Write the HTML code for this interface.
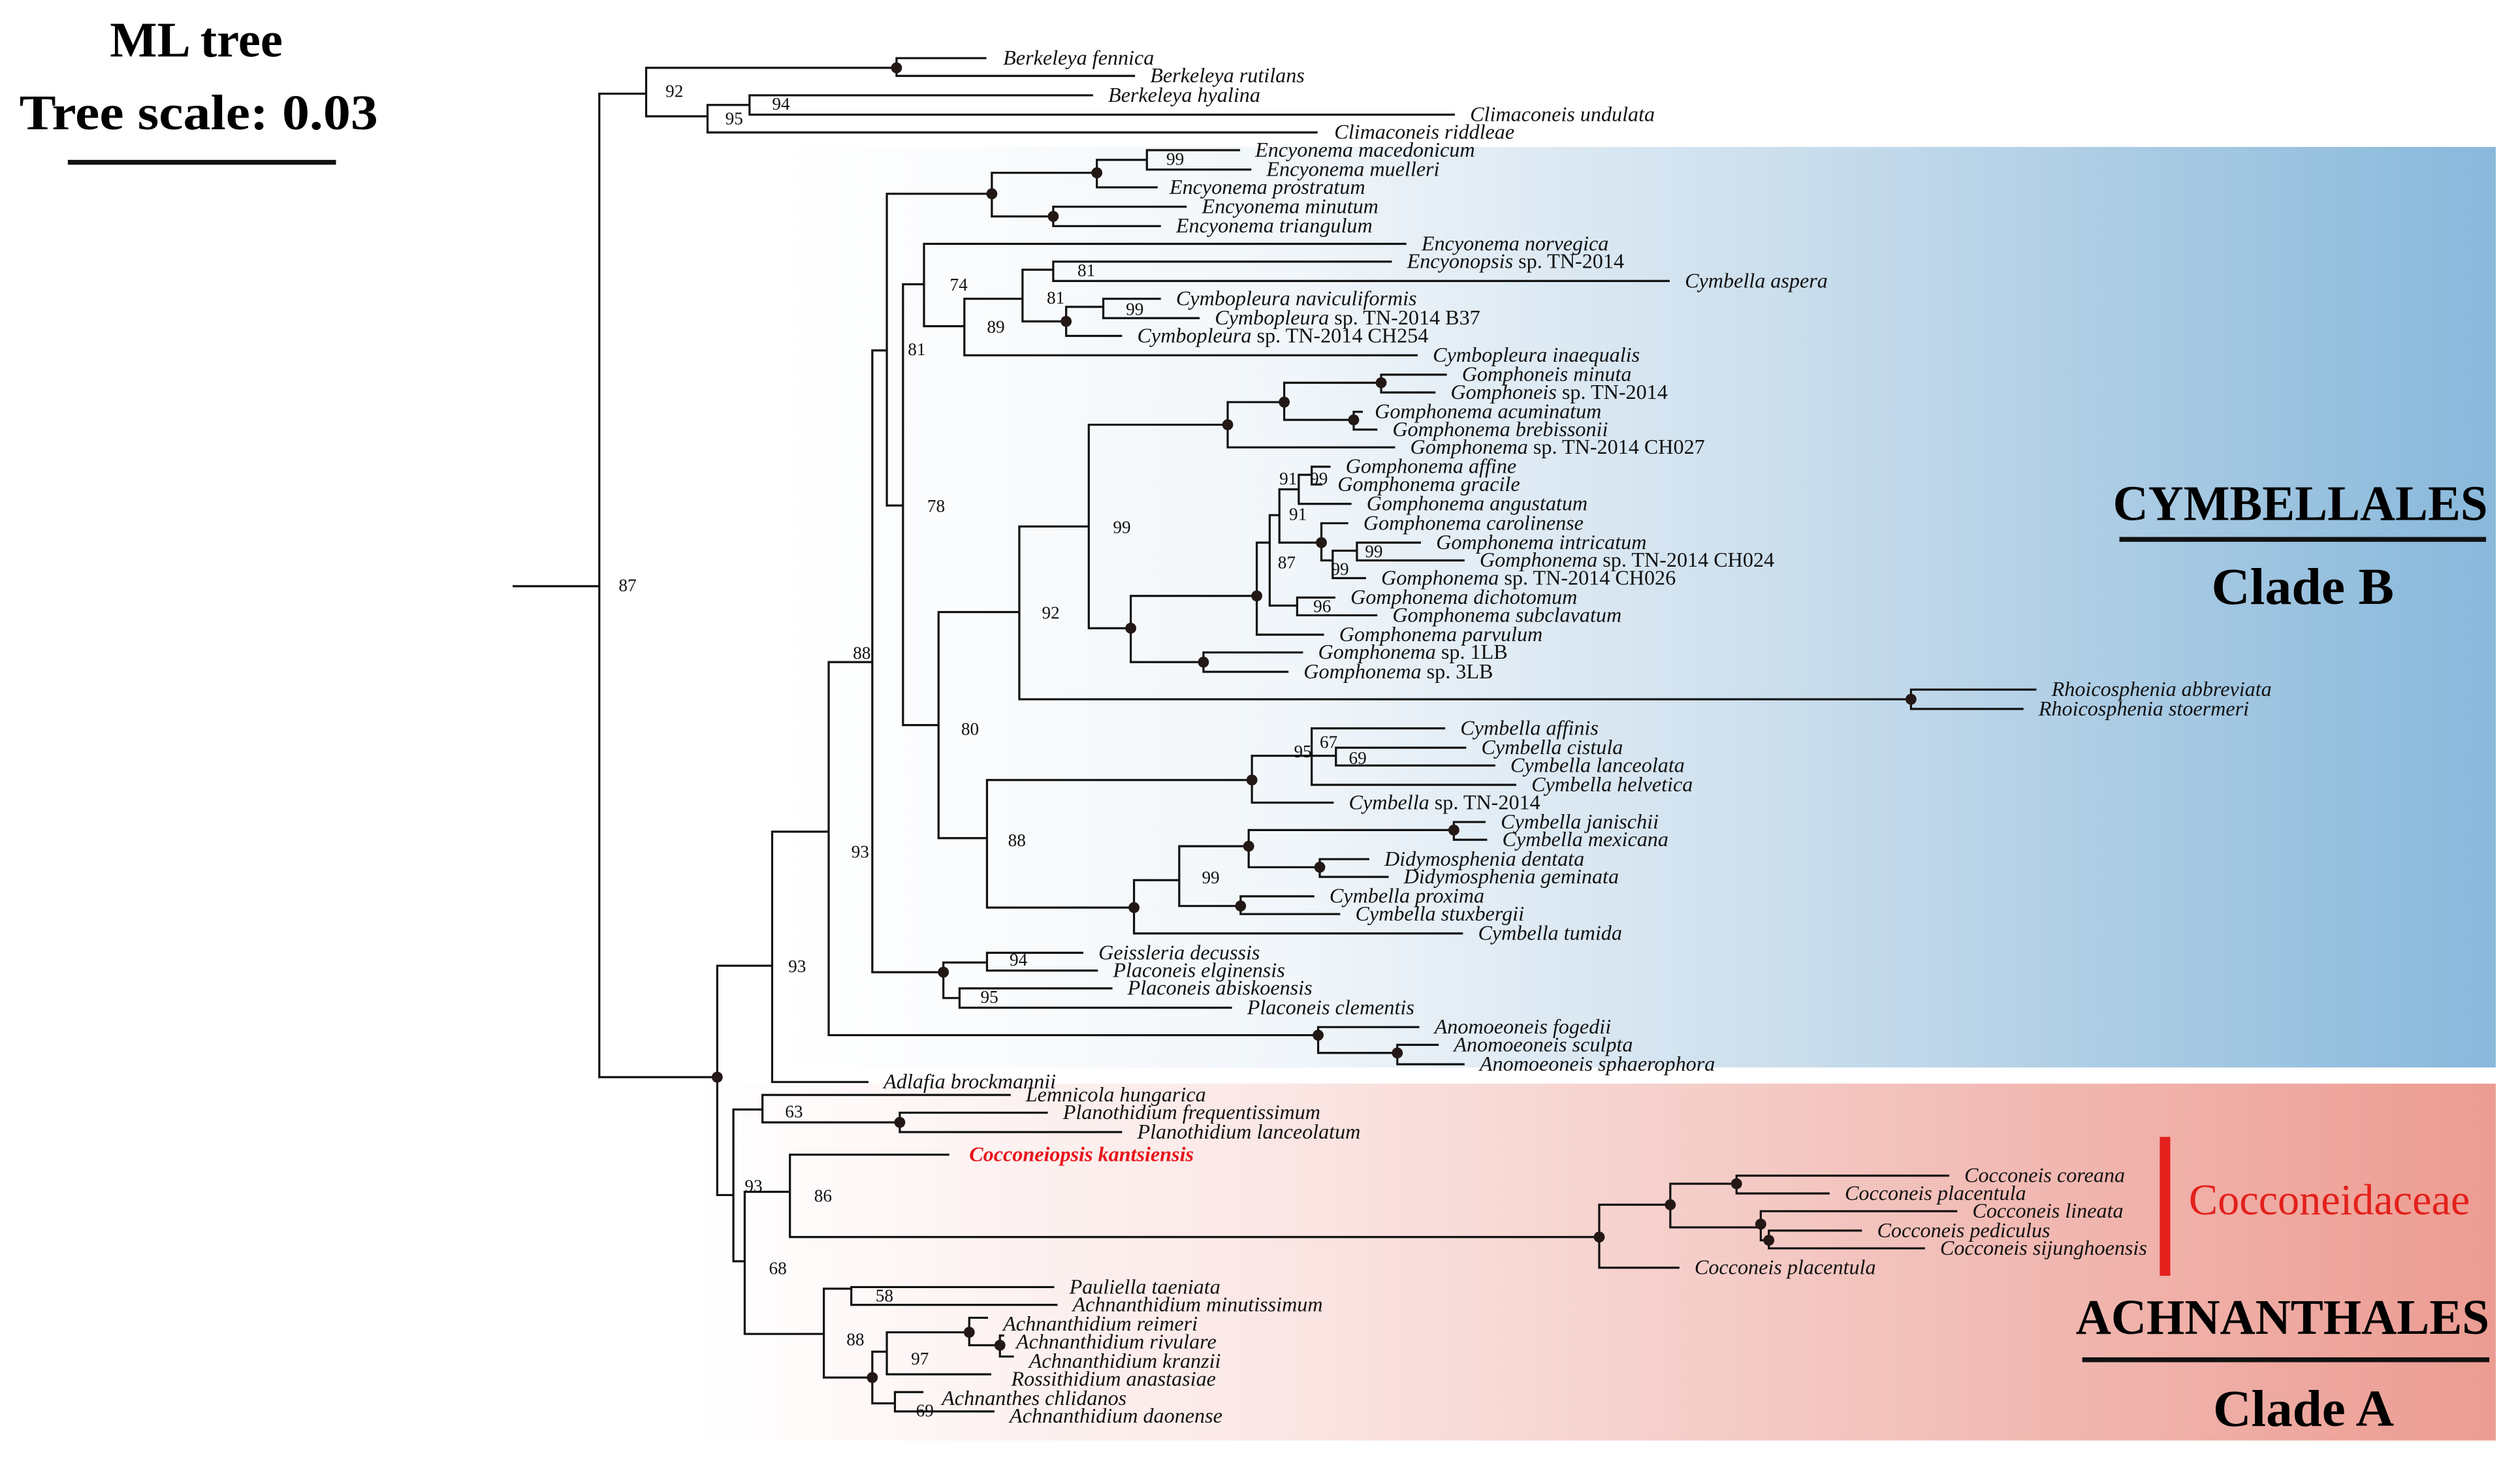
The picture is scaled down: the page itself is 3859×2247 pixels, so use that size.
<!DOCTYPE html>
<html><head><meta charset="utf-8"><style>
html,body{margin:0;padding:0;background:#fff}
svg{display:block}
.t text{font-family:"Liberation Serif",serif;font-style:italic;font-size:13px;fill:#111}
.n{font-style:normal}
.b{font-family:"Liberation Serif",serif;font-size:11px;fill:#111}
.h{font-family:"Liberation Serif",serif;font-weight:bold;fill:#000}
</style></head><body>
<svg width="3859" height="2247" viewBox="0 0 1560 908.4" preserveAspectRatio="none" xmlns="http://www.w3.org/2000/svg">
<defs>
<linearGradient id="gb" x1="480" y1="0" x2="1545" y2="0" gradientUnits="userSpaceOnUse">
<stop offset="0" stop-color="#ffffff"/><stop offset="0.3" stop-color="#f1f6fa"/><stop offset="0.6" stop-color="#c9ddec"/><stop offset="1" stop-color="#88b8db"/></linearGradient>
<linearGradient id="gr" x1="430" y1="0" x2="1545" y2="0" gradientUnits="userSpaceOnUse">
<stop offset="0" stop-color="#ffffff"/><stop offset="0.3" stop-color="#fbe9e7"/><stop offset="0.6" stop-color="#f4c9c4"/><stop offset="1" stop-color="#ec9c92"/></linearGradient>
</defs>
<rect x="480" y="91" width="1065" height="570" fill="url(#gb)"/>
<rect x="430" y="671" width="1115" height="221" fill="url(#gr)"/>

<text class="h" x="68" y="35" font-size="31" textLength="107" lengthAdjust="spacingAndGlyphs">ML tree</text>
<text class="h" x="12" y="80" font-size="31" textLength="222" lengthAdjust="spacingAndGlyphs">Tree scale: 0.03</text>
<rect x="42" y="99" width="166" height="3" fill="#111"/>

<g fill="none" stroke="#111" stroke-width="1.3" stroke-linecap="square">
<path d="M318,363H371 M371,58V667 M371,58H400 M371,667H444
M400,42V72 M400,42H555 M400,72H438
M555,36V47 M555,36H610 M555,47H702
M438,65V82 M438,65H464 M438,82H815
M464,59V71 M464,59H676 M464,71H900
M444,598V740 M444,598H478 M444,740H454
M478,515V670 M478,515H513 M478,670H537
M513,410V641 M513,410H540 M513,641H816
M816,636V652 M816,636H878 M816,652H865
M865,647V659 M865,647H890 M865,659H906
M540,217V602 M540,217H549 M540,602H584
M584,596V618 M584,596H611 M584,618H594
M611,590V601 M611,590H670 M611,601H679
M594,612V624 M594,612H688 M594,624H762
M549,120V313 M549,120H614 M549,313H559
M614,107V134 M614,107H679 M614,134H652
M679,99V116 M679,99H710 M679,116H716
M710,93V105 M710,93H767 M710,105H774
M652,128V140 M652,128H734 M652,140H718
M559,176V449 M559,176H572 M559,449H581
M572,151V202 M572,151H870 M572,202H597
M597,185V220 M597,185H633 M597,220H877
M633,167V199 M633,167H652 M633,199H660
M652,162V174 M652,162H861 M652,174H1033
M660,190V208 M660,190H683 M660,208H694
M683,185V197 M683,185H718 M683,197H742
M581,379V519 M581,379H631 M581,519H611
M631,326V433 M631,326H674 M631,433H1183
M1183,427V439 M1183,427H1260 M1183,439H1252
M674,263V389 M674,263H760 M674,389H700
M760,249V277 M760,249H795 M760,277H863
M795,237V260 M795,237H855 M795,260H838
M855,232V243 M855,232H895 M855,243H888
M838,255V266 M838,255H843 M838,266H852
M700,369V410 M700,369H778 M700,410H745
M745,404V416 M745,404H806 M745,416H797
M778,336V393 M778,336H786 M778,393H819
M786,319V375 M786,319H792 M786,375H803
M792,303V336 M792,303H804 M792,336H818
M804,294V312 M804,294H812 M804,312H836
M812,289V300 M812,289H823 M812,300H818
M818,324V347 M818,324H834 M818,347H825
M825,341V358 M825,341H840 M825,358H845
M840,336V347 M840,336H879 M840,347H906
M803,370V381 M803,370H826 M803,381H852
M611,483V562 M611,483H775 M611,562H702
M775,468V497 M775,468H812 M775,497H825
M812,451V486 M812,451H894 M812,468H827 M812,486H938
M827,463V474 M827,463H907 M827,474H925
M702,545V578 M702,545H730 M702,578H905
M730,524V561 M730,524H773 M730,561H768
M773,514V537 M773,514H900 M773,537H817
M900,509V520 M900,509H919 M900,520H920
M817,532V543 M817,532H847 M817,543H859
M768,555V566 M768,555H813 M768,566H829
M454,687V781 M454,687H472 M454,781H461
M472,678V695 M472,678H625 M472,695H557
M557,689V701 M557,689H648 M557,701H694
M461,738V826 M461,738H489 M461,826H510
M489,715V766 M489,715H587 M489,766H990
M990,746V785 M990,746H1034 M990,785H1039
M1034,733V760 M1034,733H1075 M1034,760H1090
M1075,728V739 M1075,728H1206 M1075,739H1132
M1090,750V768 M1090,750H1211 M1090,768H1095
M1095,762V773 M1095,762H1152 M1095,773H1191
M510,798V853 M510,798H527 M510,853H540
M527,797V808 M527,797H652 M527,808H654
M540,837V869 M540,837H549 M540,869H554
M549,825V851 M549,825H600 M549,851H613
M600,816V833 M600,816H611 M600,833H619
M619,827V840 M619,827H621 M619,840H627
M554,862V874 M554,862H571 M554,874H615"/>
</g>

<g fill="#231815">
<circle cx="555" cy="42" r="3.4"/><circle cx="614" cy="120" r="3.4"/><circle cx="679" cy="107" r="3.4"/><circle cx="652" cy="134" r="3.4"/>
<circle cx="660" cy="199" r="3.4"/><circle cx="760" cy="263" r="3.4"/><circle cx="795" cy="249" r="3.4"/><circle cx="855" cy="237" r="3.4"/>
<circle cx="838" cy="260" r="3.4"/><circle cx="700" cy="389" r="3.4"/><circle cx="778" cy="369" r="3.4"/><circle cx="745" cy="410" r="3.4"/>
<circle cx="818" cy="336" r="3.4"/><circle cx="1183" cy="433" r="3.4"/><circle cx="775" cy="483" r="3.4"/><circle cx="702" cy="562" r="3.4"/>
<circle cx="773" cy="524" r="3.4"/><circle cx="900" cy="514" r="3.4"/><circle cx="817" cy="537" r="3.4"/><circle cx="768" cy="561" r="3.4"/>
<circle cx="584" cy="602" r="3.4"/><circle cx="816" cy="641" r="3.4"/><circle cx="865" cy="652" r="3.4"/><circle cx="444" cy="667" r="3.4"/>
<circle cx="557" cy="695" r="3.4"/><circle cx="990" cy="766" r="3.4"/><circle cx="1034" cy="746" r="3.4"/><circle cx="1075" cy="733" r="3.4"/>
<circle cx="1090" cy="758" r="3.4"/><circle cx="1095" cy="768" r="3.4"/><circle cx="540" cy="853" r="3.4"/><circle cx="600" cy="825" r="3.4"/>
<circle cx="619" cy="833" r="3.4"/>
</g>

<g class="b">
<text x="383" y="366">87</text><text x="412" y="60">92</text><text x="449" y="77">95</text><text x="478" y="68">94</text>
<text x="488" y="602">93</text><text x="527" y="531">93</text><text x="528" y="408">88</text><text x="562" y="220">81</text>
<text x="574" y="317">78</text><text x="588" y="180">74</text><text x="611" y="206">89</text><text x="648" y="188">81</text>
<text x="667" y="171">81</text><text x="697" y="195">99</text><text x="722" y="102">99</text><text x="595" y="455">80</text>
<text x="645" y="383">92</text><text x="689" y="330">99</text><text x="791" y="352">87</text><text x="792" y="300">91</text>
<text x="811" y="300">99</text><text x="798" y="322">91</text><text x="845" y="345">99</text><text x="824" y="356">99</text>
<text x="813" y="379">96</text><text x="624" y="524">88</text><text x="801" y="469">95</text><text x="817" y="463">67</text>
<text x="835" y="473">69</text><text x="744" y="547">99</text><text x="625" y="598">94</text><text x="607" y="621">95</text>
<text x="486" y="692">63</text><text x="461" y="738">93</text><text x="504" y="744">86</text><text x="476" y="789">68</text>
<text x="542" y="806">58</text><text x="524" y="833">88</text><text x="564" y="845">97</text><text x="567" y="877">69</text>
</g>

<g class="t">
<text x="621" y="40">Berkeleya fennica</text>
<text x="712" y="51">Berkeleya rutilans</text>
<text x="686" y="63">Berkeleya hyalina</text>
<text x="910" y="75">Climaconeis undulata</text>
<text x="826" y="86">Climaconeis riddleae</text>
<text x="777" y="97">Encyonema macedonicum</text>
<text x="784" y="109">Encyonema muelleri</text>
<text x="724" y="120">Encyonema prostratum</text>
<text x="744" y="132">Encyonema minutum</text>
<text x="728" y="144">Encyonema triangulum</text>
<text x="880" y="155">Encyonema norvegica</text>
<text x="871" y="166">Encyonopsis<tspan class="n"> sp. TN-2014</tspan></text>
<text x="1043" y="178">Cymbella aspera</text>
<text x="728" y="189">Cymbopleura naviculiformis</text>
<text x="752" y="201">Cymbopleura<tspan class="n"> sp. TN-2014 B37</tspan></text>
<text x="704" y="212">Cymbopleura<tspan class="n"> sp. TN-2014 CH254</tspan></text>
<text x="887" y="224">Cymbopleura inaequalis</text>
<text x="905" y="236">Gomphoneis minuta</text>
<text x="898" y="247">Gomphoneis<tspan class="n"> sp. TN-2014</tspan></text>
<text x="851" y="259">Gomphonema acuminatum</text>
<text x="862" y="270">Gomphonema brebissonii</text>
<text x="873" y="281">Gomphonema<tspan class="n"> sp. TN-2014 CH027</tspan></text>
<text x="833" y="293">Gomphonema affine</text>
<text x="828" y="304">Gomphonema gracile</text>
<text x="846" y="316">Gomphonema angustatum</text>
<text x="844" y="328">Gomphonema carolinense</text>
<text x="889" y="340">Gomphonema intricatum</text>
<text x="916" y="351">Gomphonema<tspan class="n"> sp. TN-2014 CH024</tspan></text>
<text x="855" y="362">Gomphonema<tspan class="n"> sp. TN-2014 CH026</tspan></text>
<text x="836" y="374">Gomphonema dichotomum</text>
<text x="862" y="385">Gomphonema subclavatum</text>
<text x="829" y="397">Gomphonema parvulum</text>
<text x="816" y="408">Gomphonema<tspan class="n"> sp. 1LB</tspan></text>
<text x="807" y="420">Gomphonema<tspan class="n"> sp. 3LB</tspan></text>
<text x="1270" y="431">Rhoicosphenia abbreviata</text>
<text x="1262" y="443">Rhoicosphenia stoermeri</text>
<text x="904" y="455">Cymbella affinis</text>
<text x="917" y="467">Cymbella cistula</text>
<text x="935" y="478">Cymbella lanceolata</text>
<text x="948" y="490">Cymbella helvetica</text>
<text x="835" y="501">Cymbella<tspan class="n"> sp. TN-2014</tspan></text>
<text x="929" y="513">Cymbella janischii</text>
<text x="930" y="524">Cymbella mexicana</text>
<text x="857" y="536">Didymosphenia dentata</text>
<text x="869" y="547">Didymosphenia geminata</text>
<text x="823" y="559">Cymbella proxima</text>
<text x="839" y="570">Cymbella stuxbergii</text>
<text x="915" y="582">Cymbella tumida</text>
<text x="680" y="594">Geissleria decussis</text>
<text x="689" y="605">Placoneis elginensis</text>
<text x="698" y="616">Placoneis abiskoensis</text>
<text x="772" y="628">Placoneis clementis</text>
<text x="888" y="640">Anomoeoneis fogedii</text>
<text x="900" y="651">Anomoeoneis sculpta</text>
<text x="916" y="663">Anomoeoneis sphaerophora</text>
<text x="547" y="674">Adlafia brockmannii</text>
<text x="635" y="682">Lemnicola hungarica</text>
<text x="658" y="693">Planothidium frequentissimum</text>
<text x="704" y="705">Planothidium lanceolatum</text>
<text x="600" y="719" font-weight="bold" style="fill:#e8141c">Cocconeiopsis kantsiensis</text>
<text x="1216" y="732">Cocconeis coreana</text>
<text x="1142" y="743">Cocconeis placentula</text>
<text x="1221" y="754">Cocconeis lineata</text>
<text x="1162" y="766">Cocconeis pediculus</text>
<text x="1201" y="777">Cocconeis sijunghoensis</text>
<text x="1049" y="789">Cocconeis placentula</text>
<text x="662" y="801">Pauliella taeniata</text>
<text x="664" y="812">Achnanthidium minutissimum</text>
<text x="621" y="824">Achnanthidium reimeri</text>
<text x="629" y="835">Achnanthidium rivulare</text>
<text x="637" y="847">Achnanthidium kranzii</text>
<text x="626" y="858">Rossithidium anastasiae</text>
<text x="583" y="870">Achnanthes chlidanos</text>
<text x="625" y="881">Achnanthidium daonense</text>
</g>

<text class="h" x="1308" y="322" font-size="31" textLength="232" lengthAdjust="spacingAndGlyphs">CYMBELLALES</text>
<rect x="1312" y="332.5" width="227" height="3" fill="#111"/>
<text class="h" x="1369" y="374" font-size="32" textLength="113" lengthAdjust="spacingAndGlyphs">Clade B</text>
<rect x="1337" y="704" width="6.5" height="86" fill="#e3201b"/>
<text x="1355" y="752" font-family="Liberation Serif, serif" font-size="27" fill="#e3201b" textLength="174" lengthAdjust="spacingAndGlyphs">Cocconeidaceae</text>
<text class="h" x="1285" y="826" font-size="31" textLength="256" lengthAdjust="spacingAndGlyphs">ACHNANTHALES</text>
<rect x="1289" y="840.5" width="252" height="3" fill="#111"/>
<text class="h" x="1370" y="883" font-size="32" textLength="112" lengthAdjust="spacingAndGlyphs">Clade A</text>
</svg>
</body></html>
